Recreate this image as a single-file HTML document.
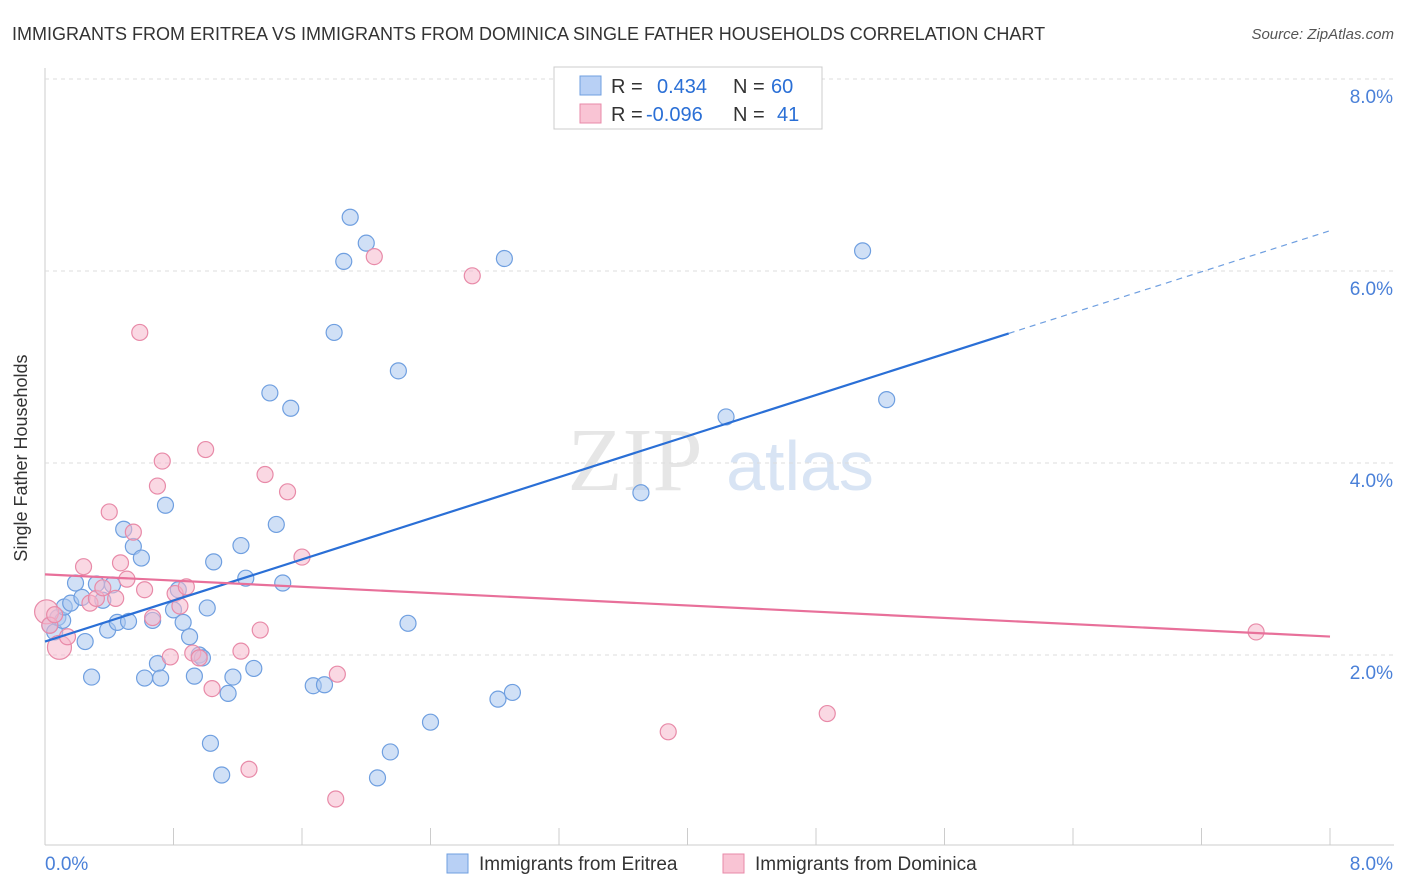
<!DOCTYPE html>
<html><head><meta charset="utf-8"><style>
body{margin:0;background:#fff;font-family:"Liberation Sans",sans-serif;}
svg{display:block}
</style></head><body>
<svg id="c" width="1406" height="892">
<text x="12" y="40" font-size="18" fill="#333">IMMIGRANTS FROM ERITREA VS IMMIGRANTS FROM DOMINICA SINGLE FATHER HOUSEHOLDS CORRELATION CHART</text>
<text x="1394" y="39" font-size="15" fill="#555" font-style="italic" text-anchor="end">Source: ZipAtlas.com</text>
<text x="27" y="458" font-size="18" fill="#333" text-anchor="middle" transform="rotate(-90 27 458)">Single Father Households</text>
<g><text x="635" y="490" font-size="90" fill="#e6e6e6" font-family="Liberation Serif,serif" text-anchor="middle">ZIP</text><text x="800" y="490" font-size="70" fill="#d8e4f4" text-anchor="middle">atlas</text></g>
<g id="grid"></g><g id="marks"></g>
<g>
<rect x="554" y="67" width="268" height="62" fill="#fff" stroke="#ccc"/>
<rect x="580" y="76" width="21" height="19" fill="#b8d0f5" stroke="#6f9fe0"/>
<rect x="580" y="104" width="21" height="19" fill="#f9c4d4" stroke="#e88aa8"/>
<text x="611" y="93" font-size="20" fill="#333">R =</text><text x="657" y="93" font-size="20" fill="#2a6fd6">0.434</text>
<text x="733" y="93" font-size="20" fill="#333">N =</text><text x="771" y="93" font-size="20" fill="#2a6fd6">60</text>
<text x="611" y="121" font-size="20" fill="#333">R =</text><text x="646" y="121" font-size="20" fill="#2a6fd6">-0.096</text>
<text x="733" y="121" font-size="20" fill="#333">N =</text><text x="777" y="121" font-size="20" fill="#2a6fd6">41</text>
</g>
<g>
<rect x="447" y="854" width="21" height="19" fill="#b8d0f5" stroke="#6f9fe0"/>
<text x="479" y="870" font-size="19" fill="#333">Immigrants from Eritrea</text>
<rect x="723" y="854" width="21" height="19" fill="#f9c4d4" stroke="#e88aa8"/>
<text x="755" y="870" font-size="19" fill="#333">Immigrants from Dominica</text>
</g>
</svg>
<script>
const xTicks=[0,0.8,1.6,2.4,3.2,4,4.8,5.6,6.4,7.2,8];
const yTicks=[2,4,6,8];
const blueX=[0.03,0.06,0.08,0.11,0.12,0.16,0.19,0.23,0.25,0.29,0.32,0.36,0.39,0.42,0.45,0.49,0.52,0.55,0.60,0.62,0.67,0.70,0.72,0.75,0.80,0.83,0.86,0.90,0.93,0.96,0.98,1.01,1.03,1.05,1.10,1.14,1.17,1.22,1.25,1.30,1.40,1.44,1.48,1.53,1.67,1.74,1.80,1.86,1.90,2.00,2.07,2.15,2.20,2.26,2.40,2.82,2.86,2.91,3.71,4.24,5.09,5.24];
const blueY=[2.31,2.24,2.39,2.36,2.50,2.54,2.75,2.60,2.14,1.77,2.74,2.57,2.26,2.73,2.34,3.31,2.35,3.13,3.01,1.76,2.36,1.91,1.76,3.56,2.47,2.68,2.34,2.19,1.78,2.00,1.97,2.49,1.08,2.97,0.75,1.60,1.77,3.14,2.80,1.86,4.73,3.36,2.75,4.57,1.68,1.69,5.36,6.10,6.56,6.29,0.72,0.99,4.96,2.33,1.30,1.54,6.13,1.61,3.69,4.48,6.21,4.66];
const pinkX=[0.01,0.03,0.06,0.09,0.14,0.24,0.28,0.32,0.36,0.40,0.44,0.47,0.51,0.55,0.59,0.62,0.67,0.70,0.73,0.78,0.81,0.84,0.88,0.92,0.96,1.00,1.04,1.22,1.27,1.34,1.37,1.51,1.60,1.81,1.82,2.05,2.66,3.88,4.87,7.54];
const pinkY=[2.45,2.31,2.42,2.08,2.19,2.92,2.54,2.59,2.70,3.49,2.59,2.96,2.79,3.28,5.36,2.68,2.39,3.76,4.02,1.98,2.64,2.51,2.71,2.02,1.97,4.14,1.65,2.04,0.81,2.26,3.88,3.70,3.02,0.50,1.80,6.15,5.95,1.20,1.39,2.24];
const blueTrend=[2.14,0.535];const pinkTrend=[2.84,-0.081];
const NS='http://www.w3.org/2000/svg';
const sx=v=>45+v*160.625, sy=v=>847-v*96;
function mk(p,t,a){const e=document.createElementNS(NS,t);for(const k in a)e.setAttribute(k,a[k]);p.appendChild(e);return e;}
const g=document.getElementById('grid'),m=document.getElementById('marks');
let ax=mk(g,'line',{x1:45,y1:68,x2:45,y2:845,stroke:'#ccc'});

let bx=mk(g,'line',{x1:45,y1:845,x2:1394,y2:845,stroke:'#ccc'});

yTicks.forEach(v=>{const l=mk(g,'line',{x1:45,y1:sy(v),x2:1394,y2:sy(v),stroke:'#ddd','stroke-dasharray':'4,4'});

const t=mk(g,'text',{x:1393,y:sy(v)+24,'font-size':19,fill:'#4a80d8','text-anchor':'end'});t.textContent=v.toFixed(1)+'%';
});
xTicks.forEach(v=>{const l=mk(g,'line',{x1:sx(v),y1:828,x2:sx(v),y2:845,stroke:'#ccc'});
});
[[0,45,'start'],[8,1393,'end']].forEach(([v,x,a])=>{const t=mk(g,'text',{x:x,y:870,'font-size':19,fill:'#4a80d8','text-anchor':a});t.textContent=v.toFixed(1)+'%';
});
function pts(X,Y,f,s,n){X.forEach((x,i)=>{const big=(n==='pink-point'&&(i===0||i===3));const c=mk(m,'circle',{cx:sx(x),cy:sy(Y[i]),r:big?12:8,fill:f,'fill-opacity':0.55,stroke:s,'stroke-width':1.2});
});}
pts(blueX,blueY,'#a9c6ef','#6f9fe0','blue-point');
pts(pinkX,pinkY,'#f5b8cc','#e88aa8','pink-point');
let l1=mk(m,'line',{x1:sx(0),y1:sy(blueTrend[0]),x2:sx(6),y2:sy(blueTrend[0]+6*blueTrend[1]),stroke:'#2a6fd6','stroke-width':2.2});

let l2=mk(m,'line',{x1:sx(6),y1:sy(blueTrend[0]+6*blueTrend[1]),x2:sx(8),y2:sy(blueTrend[0]+8*blueTrend[1]),stroke:'#6f9fe0','stroke-width':1.2,'stroke-dasharray':'6,5'});

let l3=mk(m,'line',{x1:sx(0),y1:sy(pinkTrend[0]),x2:sx(8),y2:sy(pinkTrend[0]+8*pinkTrend[1]),stroke:'#e8709a','stroke-width':2.2});

</script>
</body></html>
